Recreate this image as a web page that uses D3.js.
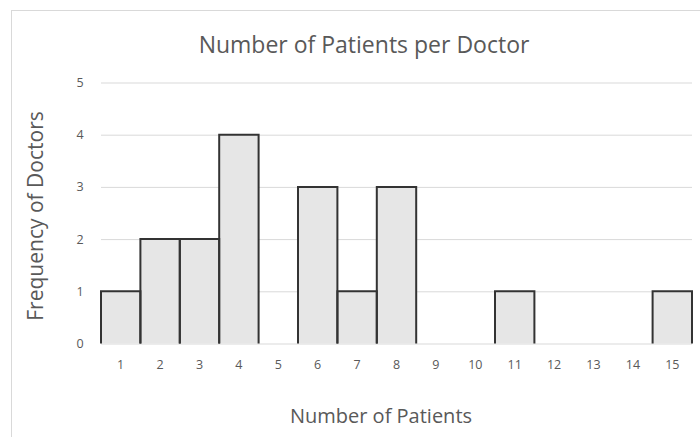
<!DOCTYPE html>
<html>
<head>
<meta charset="utf-8">
<script src="https://cdn.jsdelivr.net/npm/d3@7"></script>
<style>
  html, body { margin: 0; padding: 0; background: #fff; }
  svg { display: block; }
  text { font-family: "Open Sans", "Liberation Sans", sans-serif; fill: #595959; }
</style>
</head>
<body>
<svg id="chart" width="700" height="437"></svg>
<script>
// Histogram bins: number of patients per doctor and how many doctors fall in each
const bins = ["1","2","3","4","5","6","7","8","9","10","11","12","13","14","15"];
const frequency = [1, 2, 2, 4, 0, 3, 1, 3, 0, 0, 1, 0, 0, 0, 1];
const yTicks = [0, 1, 2, 3, 4, 5];

const svg = d3.select("#chart");
const plot = { left: 101, right: 692, top: 82.5, bottom: 343.5 };

// Chart frame
svg.append("rect")
  .attr("x", 11.5).attr("y", 10.5)
  .attr("width", 720).attr("height", 450)
  .attr("fill", "none").attr("stroke", "#d9d9d9").attr("stroke-width", 1);

const x = d3.scaleBand().domain(bins).range([plot.left, plot.right]).padding(0);
const y = d3.scaleLinear().domain([0, 5]).range([plot.bottom, plot.top]);

// Horizontal gridlines with value labels
const yAxis = d3.axisLeft(y).tickValues(yTicks).tickFormat(d3.format("d"))
  .tickSize(-(plot.right - plot.left)).tickPadding(18);
const gy = svg.append("g").attr("transform", `translate(${plot.left},0)`).call(yAxis);
gy.select(".domain").remove();
gy.selectAll(".tick line").attr("stroke", "#d9d9d9").attr("stroke-width", 1);
gy.selectAll(".tick text").attr("font-size", 12.5).style("fill", "#595959")
  .attr("text-anchor", "middle").attr("x", -21);

// Bars: sides and top outlined, base left on the axis line
const bars = svg.append("g");
bins.forEach((b, i) => {
  const v = frequency[i];
  bars.append("rect")
    .attr("x", x(b)).attr("y", y(v))
    .attr("width", x.bandwidth()).attr("height", y(0) - y(v))
    .attr("fill", "#e6e6e6");
});
bins.forEach((b, i) => {
  const v = frequency[i];
  if (v === 0) return;
  const x0 = x(b), x1 = x(b) + x.bandwidth();
  bars.append("path")
    .attr("d", `M${x0},${y(0)}V${y(v)}H${x1}V${y(0)}`)
    .attr("fill", "none").attr("stroke", "#333").attr("stroke-width", 2);
});

// Category labels below the plot
const xAxis = d3.axisBottom(x).tickSize(0).tickPadding(17);
const gx = svg.append("g").attr("transform", `translate(0,${plot.bottom})`).call(xAxis);
gx.select(".domain").remove();
gx.selectAll(".tick text").attr("font-size", 12.5).style("fill", "#595959");

// Titles
svg.append("text")
  .attr("x", 364).attr("y", 53)
  .attr("text-anchor", "middle").attr("font-size", 23)
  .text("Number of Patients per Doctor");

svg.append("text")
  .attr("x", 381).attr("y", 423)
  .attr("text-anchor", "middle").attr("font-size", 20)
  .text("Number of Patients");

svg.append("text")
  .attr("transform", "translate(43,216) rotate(-90)")
  .attr("text-anchor", "middle").attr("font-size", 21)
  .text("Frequency of Doctors");
</script>
</body>
</html>
